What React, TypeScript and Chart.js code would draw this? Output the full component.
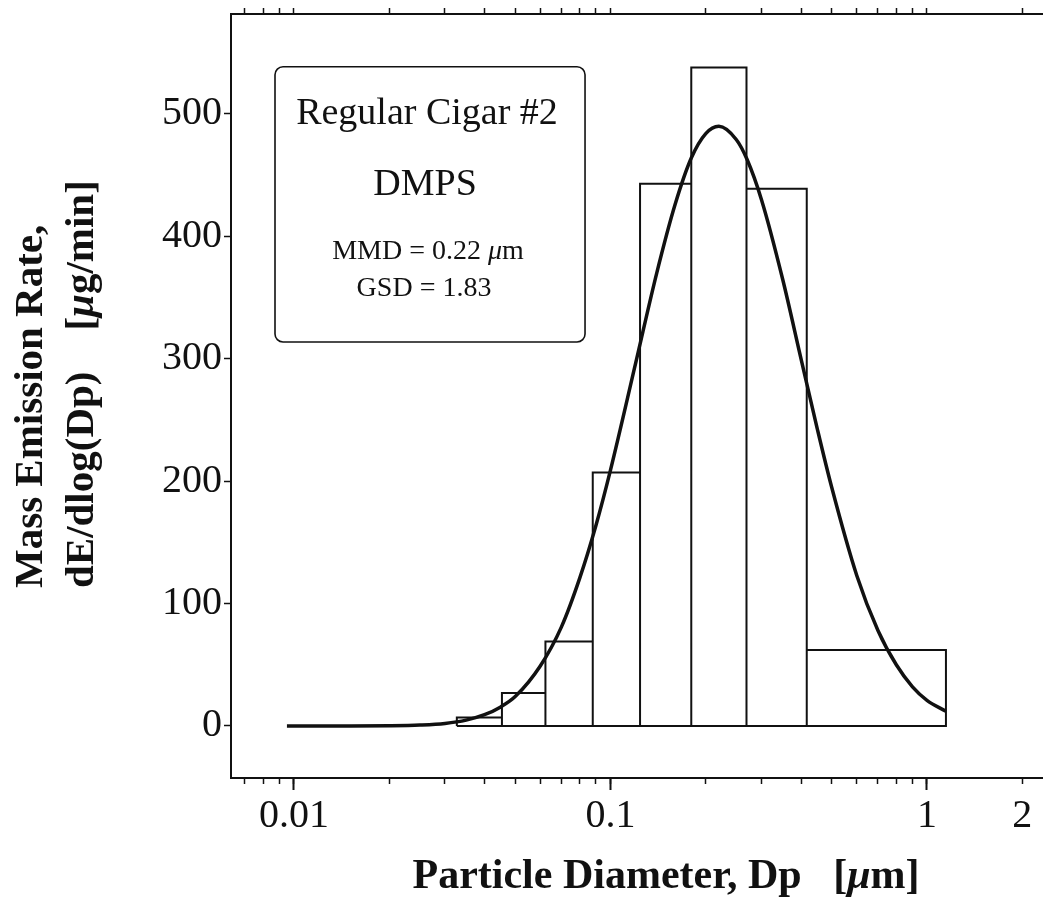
import React, { useEffect, useRef } from "react";
import { Chart, registerables } from "chart.js";

Chart.register(...registerables);

// ---- data ----
const binEdges = [0.0327, 0.0454, 0.0623, 0.0879, 0.124, 0.18, 0.269, 0.417, 1.148];
const binHeights = [7, 27, 69, 207, 443, 538, 439, 62];

const fitDiameters = [
  0.0095, 0.015, 0.02, 0.025, 0.03, 0.035, 0.04, 0.045, 0.05, 0.06, 0.07, 0.08, 0.09, 0.1,
  0.12, 0.14, 0.16, 0.18, 0.2, 0.22, 0.25, 0.27, 0.3, 0.35, 0.4, 0.45, 0.5, 0.6, 0.7, 0.8,
  0.9, 1.0, 1.148,
];
const fitValues = [
  0, 0, 0.2, 0.8, 2.1, 4.8, 9.2, 15.6, 24, 49, 81, 121, 164, 209,
  296, 370, 426, 464, 484, 490, 479, 463, 430, 365, 300, 243, 195, 123, 78, 50,
  32, 21, 12,
];

const xLabelTicks = [0.01, 0.1, 1, 2];
const xMajorTicks = [0.01, 0.1, 1];
const yTicks = [0, 100, 200, 300, 400, 500];

const boxTitle = "Regular Cigar #2";
const boxMethod = "DMPS";
const boxMMD = "0.22";
const boxGSD = "1.83";

const xTitleMain = "Particle Diameter, Dp   [";
const yTitleLine1 = "Mass Emission Rate,";
const yTitleLine2a = "dE/dlog(Dp)    [";

// ---- axis ranges ----
const X_MIN = 0.006324;
const X_MAX = 3.547;
const Y_MIN = -42.5;
const Y_MAX = 581.7;

const SERIF = '"Liberation Serif", "Times New Roman", serif';
const INK = "#111";

function buildLogTicks(min: number, max: number): number[] {
  const out: number[] = [];
  for (let e = -3; e <= 1; e++) {
    for (let k = 1; k <= 9; k++) {
      const v = +(k * Math.pow(10, e)).toPrecision(6);
      if (v > min * 1.0001 && v < max * 0.9999) out.push(v);
    }
  }
  return out;
}
const isIn = (v: number, list: number[]) => list.some((t) => Math.abs(v - t) / t < 1e-6);

const noPad = (s: any) => {
  s.paddingTop = 0;
  s.paddingBottom = 0;
  s.paddingLeft = 0;
  s.paddingRight = 0;
};

type Seg = { t: string; f: string };
function drawRich(ctx: CanvasRenderingContext2D, segs: Seg[], x: number, y: number, align: "left" | "center") {
  let w = 0;
  for (const s of segs) {
    ctx.font = s.f;
    w += ctx.measureText(s.t).width;
  }
  let cx = align === "center" ? x - w / 2 : x;
  ctx.textAlign = "left";
  for (const s of segs) {
    ctx.font = s.f;
    ctx.fillText(s.t, cx, y);
    cx += ctx.measureText(s.t).width;
  }
}

const overlayPlugin = {
  id: "overlay",
  afterDraw(chart: any) {
    const ctx: CanvasRenderingContext2D = chart.ctx;
    const xs = chart.scales.x;
    const ys = chart.scales.y;
    ctx.save();
    ctx.fillStyle = INK;
    ctx.strokeStyle = INK;

    // annotation box (positioned in data units)
    const bx0 = xs.getPixelForValue(0.00871);
    const bx1 = xs.getPixelForValue(0.0831);
    const by0 = ys.getPixelForValue(538.6);
    const by1 = ys.getPixelForValue(313.7);
    ctx.lineWidth = 1.6;
    ctx.beginPath();
    (ctx as any).roundRect(bx0, by0, bx1 - bx0, by1 - by0, 8);
    ctx.stroke();
    const cx = (bx0 + bx1) / 2;
    ctx.textBaseline = "alphabetic";
    const big = `38px ${SERIF}`;
    const small = `28px ${SERIF}`;
    const smallIt = `italic 28px ${SERIF}`;
    drawRich(ctx, [{ t: boxTitle, f: big }], cx - 3, ys.getPixelForValue(491.5), "center");
    drawRich(ctx, [{ t: boxMethod, f: big }], cx - 5, ys.getPixelForValue(433.8), "center");
    drawRich(ctx, [{ t: `MMD = ${boxMMD} `, f: small }, { t: "\u03bc", f: smallIt }, { t: "m", f: small }], cx - 2, ys.getPixelForValue(381.5), "center");
    drawRich(ctx, [{ t: `GSD = ${boxGSD}`, f: small }], cx - 6, ys.getPixelForValue(351.6), "center");

    // y axis title (two lines, start aligned, rotated)
    const yb = `bold 41px ${SERIF}`;
    const ybi = `italic bold 41px ${SERIF}`;
    ctx.save();
    ctx.translate(42, 588);
    ctx.rotate(-Math.PI / 2);
    drawRich(ctx, [{ t: yTitleLine1, f: yb }], 0, 0, "left");
    ctx.restore();
    ctx.save();
    ctx.translate(93, 588);
    ctx.rotate(-Math.PI / 2);
    drawRich(ctx, [{ t: yTitleLine2a, f: yb }, { t: "\u03bc", f: ybi }, { t: "g/min]", f: yb }], 0, 0, "left");
    ctx.restore();

    // x axis title
    const xb = `bold 42px ${SERIF}`;
    const xbi = `italic bold 42px ${SERIF}`;
    drawRich(ctx, [{ t: xTitleMain, f: xb }, { t: "\u03bc", f: xbi }, { t: "m]", f: xb }], 666, 888, "center");

    ctx.restore();
  },
};

export default function App() {
  const canvasRef = useRef<HTMLCanvasElement | null>(null);

  useEffect(() => {
    const canvas = canvasRef.current;
    if (!canvas) return;

    // histogram outline: each bin as a rectangle, then baseline back to start
    const histPts: { x: number; y: number }[] = [];
    for (let i = 0; i < binHeights.length; i++) {
      histPts.push({ x: binEdges[i], y: 0 });
      histPts.push({ x: binEdges[i], y: binHeights[i] });
      histPts.push({ x: binEdges[i + 1], y: binHeights[i] });
      histPts.push({ x: binEdges[i + 1], y: 0 });
    }
    histPts.push({ x: binEdges[0], y: 0 });

    const fitPts = fitDiameters.map((d, i) => ({ x: d, y: fitValues[i] }));
    const allLogTicks = buildLogTicks(X_MIN, X_MAX);

    const chart = new Chart(canvas, {
      type: "line",
      data: {
        datasets: [
          {
            data: fitPts,
            borderColor: INK,
            borderWidth: 3.5,
            pointRadius: 0,
            cubicInterpolationMode: "monotone",
            fill: false,
            order: 0,
          },
          {
            data: histPts,
            borderColor: INK,
            borderWidth: 2,
            pointRadius: 0,
            tension: 0,
            fill: false,
            order: 1,
          },
        ],
      },
      options: {
        animation: false,
        responsive: false,
        events: [],
        layout: { autoPadding: false, padding: { left: 0, right: 9, top: 0, bottom: 0 } },
        plugins: { legend: { display: false }, tooltip: { enabled: false } },
        scales: {
          xMajor: {
            type: "logarithmic",
            position: "bottom",
            weight: -1,
            min: X_MIN,
            max: X_MAX,
            afterBuildTicks: (s: any) => {
              s.ticks = xMajorTicks.map((v) => ({ value: v }));
            },
            afterFit: (s: any) => {
              s.height = 0;
              noPad(s);
            },
            ticks: { display: false },
            grid: { drawOnChartArea: false, drawTicks: true, tickLength: 12, tickWidth: 2, tickColor: INK },
            border: { display: true, color: INK, width: 2 },
          },
          x: {
            type: "logarithmic",
            position: "bottom",
            weight: 0,
            min: X_MIN,
            max: X_MAX,
            afterBuildTicks: (s: any) => {
              s.ticks = allLogTicks.map((v) => ({ value: v }));
            },
            afterFit: (s: any) => {
              s.height = 121;
              noPad(s);
            },
            ticks: {
              autoSkip: false,
              maxRotation: 0,
              minRotation: 0,
              padding: 8,
              color: INK,
              font: { family: SERIF, size: 40 },
              callback: (v: any) => (isIn(Number(v), xLabelTicks) ? String(Number(v)) : ""),
            },
            grid: { drawOnChartArea: false, drawTicks: true, tickLength: 6, tickWidth: 1.5, tickColor: INK },
            border: { display: true, color: INK, width: 2 },
          },
          xTop: {
            type: "logarithmic",
            position: "top",
            min: X_MIN,
            max: X_MAX,
            afterBuildTicks: (s: any) => {
              s.ticks = allLogTicks.map((v) => ({ value: v }));
            },
            afterFit: (s: any) => {
              s.height = 14;
              noPad(s);
            },
            ticks: { display: false },
            grid: { drawOnChartArea: false, drawTicks: true, tickLength: 6, tickWidth: 1.5, tickColor: INK },
            border: { display: true, color: INK, width: 2 },
          },
          y: {
            type: "linear",
            position: "left",
            min: Y_MIN,
            max: Y_MAX,
            afterBuildTicks: (s: any) => {
              s.ticks = yTicks.map((v) => ({ value: v }));
            },
            afterFit: (s: any) => {
              s.width = 231;
              noPad(s);
            },
            ticks: {
              padding: 2,
              color: INK,
              font: { family: SERIF, size: 40 },
              callback: (v: any) => String(v),
            },
            grid: { drawOnChartArea: false, drawTicks: true, tickLength: 7, tickWidth: 1.5, tickColor: INK },
            border: { display: true, color: INK, width: 2 },
          },
        },
      },
      plugins: [overlayPlugin],
    } as any);

    return () => chart.destroy();
  }, []);

  return (
    <div
      style={{
        position: "fixed",
        left: 0,
        top: 0,
        width: 1043,
        height: 899,
        overflow: "hidden",
        background: "#fff",
      }}
    >
      <canvas ref={canvasRef} width={1110} height={899} style={{ display: "block" }} />
    </div>
  );
}
